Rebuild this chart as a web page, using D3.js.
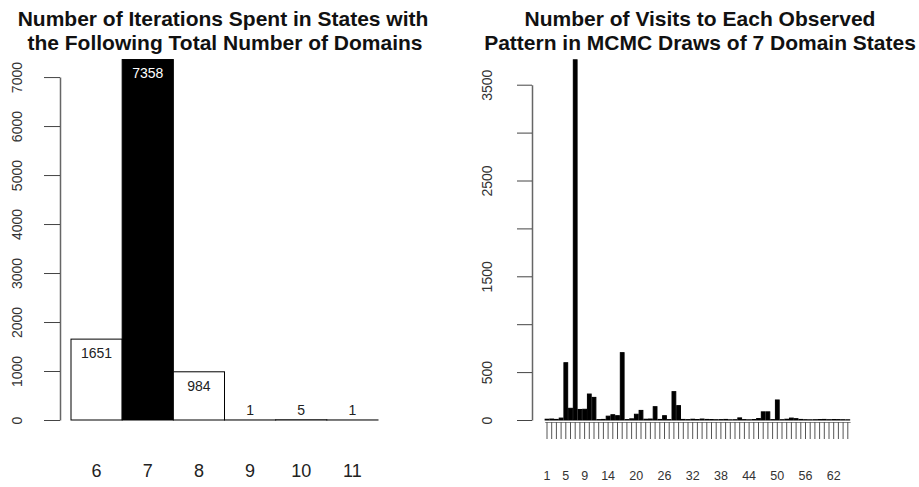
<!DOCTYPE html>
<html>
<head>
<meta charset="utf-8">
<script src="https://cdn.jsdelivr.net/npm/d3@7"></script>
<style>
  body { margin: 0; background: #fff; }
  svg { display: block; font-family: "Liberation Sans", Arial, Helvetica, sans-serif; }
  .title { font-weight: bold; font-size: 21px; fill: #111; text-anchor: middle; }
</style>
</head>
<body>
<div id="chart"></div>
<script>
var svgWidth = 919;
var svgHeight = 487;

// Left panel data: iterations per total number of domains
var domainCounts = ["6", "7", "8", "9", "10", "11"];
var iterations = [1651, 7358, 984, 1, 5, 1];
var leftTicks = [0, 1000, 2000, 3000, 4000, 5000, 6000, 7000];

// Right panel data: visits to each observed 7-domain pattern
var patternIds = d3.range(1, 66);
var patternVisits = [
    8, 10, 6, 20, 598, 122, 3760, 110, 112, 271,
    236, 4, 6, 40, 55, 45, 703, 4, 12, 60,
    100, 8, 10, 139, 6, 45, 4, 296, 150, 6,
    4, 8, 5, 10, 6, 5, 3, 4, 6, 2,
    3, 22, 4, 2, 5, 15, 85, 85, 4, 209,
    3, 8, 20, 14, 6, 3, 2, 3, 5, 6,
    3, 5, 4, 3, 2
];
var rightTicks = [0, 500, 1000, 1500, 2000, 2500, 3000, 3500];
var rightTickLabels = [0, 500, 1500, 2500, 3500];
var patternLabels = [1, 5, 9, 14, 20, 26, 32, 38, 44, 50, 56, 62];

var svg = d3.select("#chart")
    .append("svg")
    .attr("width", svgWidth)
    .attr("height", svgHeight);

var baseY = 420;

// ---------- Left panel ----------
var xLeft = d3.scaleBand()
    .domain(domainCounts)
    .range([71, 378])
    .padding(0);

var yLeft = d3.scaleLinear()
    .domain([0, 7000])
    .range([baseY, baseY - 7000 * 0.04899]);

var left = svg.append("g");

left.selectAll("rect")
    .data(iterations)
    .enter()
    .append("rect")
    .attr("x", (d, i) => xLeft(domainCounts[i]))
    .attr("y", d => yLeft(d))
    .attr("width", xLeft.bandwidth())
    .attr("height", d => Math.max(0, baseY - yLeft(d)))
    .attr("fill", (d, i) => i === 1 ? "#000" : "#fff")
    .attr("stroke", "#000")
    .attr("stroke-width", 1);

// value labels inside the bar top (or just above tiny bars)
left.selectAll(".val")
    .data(iterations)
    .enter()
    .append("text")
    .attr("class", "val")
    .attr("x", (d, i) => xLeft(domainCounts[i]) + xLeft.bandwidth() / 2)
    .attr("y", d => Math.min(yLeft(d) + 14, baseY - 10))
    .attr("dy", "0.35em")
    .attr("text-anchor", "middle")
    .attr("font-size", "14px")
    .attr("fill", (d, i) => i === 1 ? "#fff" : "#222")
    .text(d => d);

// y axis
var leftAxis = d3.axisLeft(yLeft)
    .tickValues(leftTicks)
    .tickSize(16)
    .tickSizeOuter(0)
    .tickFormat(d3.format("d"));

var gLeftAxis = left.append("g")
    .attr("transform", "translate(60,0)")
    .call(leftAxis);

gLeftAxis.select(".domain").attr("stroke", "#666").attr("stroke-width", 1.5);
gLeftAxis.selectAll(".tick line").attr("stroke", "#444");
gLeftAxis.selectAll(".tick text")
    .attr("transform", "rotate(-90)")
    .attr("x", 0)
    .attr("y", -43)
    .attr("dy", "0.35em")
    .attr("text-anchor", "middle")
    .attr("font-size", "14px")
    .attr("font-family", null)
    .attr("fill", "#333");

// category labels under the bars
left.selectAll(".cat")
    .data(domainCounts)
    .enter()
    .append("text")
    .attr("class", "cat")
    .attr("x", d => xLeft(d) + xLeft.bandwidth() / 2)
    .attr("y", 477)
    .attr("text-anchor", "middle")
    .attr("font-size", "18px")
    .attr("fill", "#222")
    .text(d => d);

left.append("text")
    .attr("class", "title")
    .attr("x", 223)
    .attr("y", 26)
    .text("Number of Iterations Spent in States with");

left.append("text")
    .attr("class", "title")
    .attr("x", 225)
    .attr("y", 50)
    .text("the Following Total Number of Domains");

// ---------- Right panel ----------
var xRight = d3.scaleBand()
    .domain(patternIds)
    .range([544.65, 850.15])
    .paddingInner(0.2)
    .paddingOuter(0.1);

var yRight = d3.scaleLinear()
    .domain([0, 3500])
    .range([baseY, baseY - 3500 * 0.0958]);

var right = svg.append("g");

right.selectAll("rect")
    .data(patternVisits)
    .enter()
    .append("rect")
    .attr("x", (d, i) => xRight(patternIds[i]))
    .attr("y", d => yRight(d))
    .attr("width", xRight.bandwidth())
    .attr("height", d => Math.max(0, baseY - yRight(d)))
    .attr("fill", "#000")
    .attr("stroke", "#000")
    .attr("stroke-width", 1);

var rightAxis = d3.axisLeft(yRight)
    .tickValues(rightTicks)
    .tickSize(15)
    .tickSizeOuter(0)
    .tickFormat(d => rightTickLabels.indexOf(d) >= 0 ? d : "");

var gRightAxis = right.append("g")
    .attr("transform", "translate(532,0)")
    .call(rightAxis);

gRightAxis.select(".domain").attr("stroke", "#666").attr("stroke-width", 1.5);
gRightAxis.selectAll(".tick line").attr("stroke", "#444");
gRightAxis.selectAll(".tick text")
    .attr("transform", "rotate(-90)")
    .attr("x", 0)
    .attr("y", -45)
    .attr("dy", "0.35em")
    .attr("text-anchor", "middle")
    .attr("font-size", "14px")
    .attr("font-family", null)
    .attr("fill", "#333");

// x axis with a tick under every pattern
var bottomAxis = d3.axisBottom(xRight)
    .tickSize(17)
    .tickSizeOuter(0)
    .tickPadding(32.5)
    .tickFormat(d => patternLabels.indexOf(d) >= 0 ? d : "");

var gBottom = right.append("g")
    .attr("transform", `translate(0, ${baseY + 2})`)
    .call(bottomAxis);

gBottom.select(".domain").attr("stroke", "#888").attr("stroke-width", 1.2);
gBottom.selectAll(".tick line").attr("stroke", "#555");
gBottom.selectAll(".tick text")
    .attr("font-size", "12.5px")
    .attr("font-family", null)
    .attr("fill", "#333");

right.append("text")
    .attr("class", "title")
    .attr("x", 700)
    .attr("y", 26)
    .text("Number of Visits to Each Observed");

right.append("text")
    .attr("class", "title")
    .attr("x", 700)
    .attr("y", 50)
    .text("Pattern in MCMC Draws of 7 Domain States");
</script>
</body>
</html>
